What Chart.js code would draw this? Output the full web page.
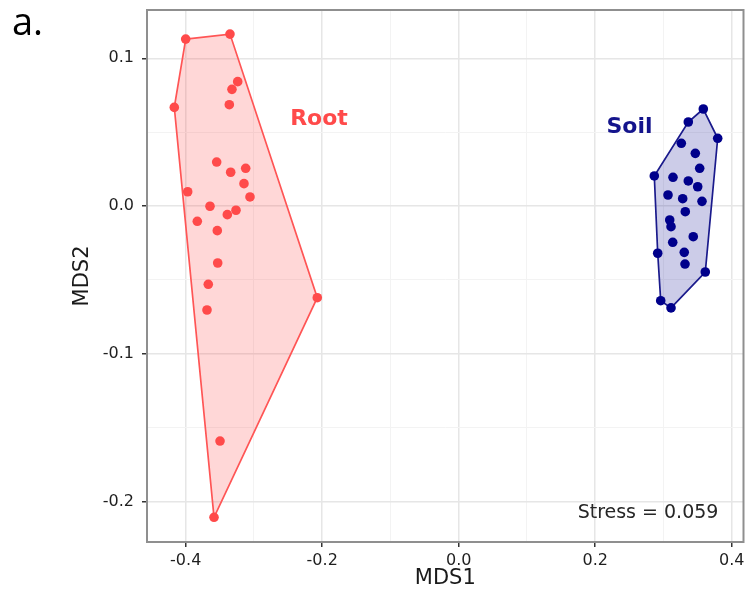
<!DOCTYPE html>
<html>
<head>
<meta charset="utf-8">
<script src="https://cdn.jsdelivr.net/npm/chart.js@4.4.0/dist/chart.umd.min.js"></script>
<style>
  html, body { margin: 0; padding: 0; background: #ffffff; }
  #wrap { position: relative; width: 749px; height: 596px; }
  canvas { display: block; }
</style>
</head>
<body>
<div id="wrap"><canvas id="c" width="749" height="596"></canvas></div>
<script>
// ---- data ----
const rootX = [-0.4000, -0.3351, -0.3238, -0.3322, -0.3361, -0.4167, -0.3546, -0.3341, -0.3121, -0.3146, -0.3971, -0.3058, -0.3644, -0.3263, -0.3390, -0.3830, -0.3537, -0.3531, -0.3669, -0.3688, -0.2072, -0.3497, -0.3585];
const rootY = [0.1130, 0.1164, 0.0842, 0.0790, 0.0686, 0.0668, 0.0298, 0.0229, 0.0256, 0.0152, 0.0097, 0.0062, -0.0001, -0.0028, -0.0058, -0.0103, -0.0166, -0.0385, -0.0529, -0.0703, -0.0620, -0.1590, -0.2106];
const rootHull = [0, 1, 20, 22, 5, 0];

const soilX = [0.3584, 0.3364, 0.3795, 0.3262, 0.3467, 0.3531, 0.2866, 0.3140, 0.3364, 0.3502, 0.3067, 0.3282, 0.3565, 0.3320, 0.3092, 0.3111, 0.3136, 0.3437, 0.2916, 0.3305, 0.3316, 0.3613, 0.2960, 0.3111];
const soilY = [0.0657, 0.0569, 0.0459, 0.0425, 0.0357, 0.0256, 0.0204, 0.0195, 0.0170, 0.0131, 0.0075, 0.0050, 0.0032, -0.0038, -0.0094, -0.0139, -0.0245, -0.0207, -0.0319, -0.0313, -0.0392, -0.0446, -0.0640, -0.0689];
const soilHull = [0, 2, 21, 23, 22, 18, 6, 1, 0];

const groupNames = ['Root', 'Soil'];
const groupLabelX = [-0.2047, 0.2503];
const groupLabelY = [0.0589, 0.0530];
const stressText = 'Stress = 0.059';
const stressX = 0.2774;
const stressY = -0.2079;

const xMajor = [-0.4, -0.2, 0.0, 0.2, 0.4];
const xMinor = [-0.3, -0.1, 0.1, 0.3];
const yMajor = [-0.2, -0.1, 0.0, 0.1];
const yMinor = [-0.15, -0.05, 0.05];
const xRange = [-0.4567, 0.4173];
const yRange = [-0.2273, 0.1327];

// ---- helpers ----
const pts = (xs, ys) => xs.map((x, i) => ({x: x, y: ys[i]}));
const hullPts = (xs, ys, idx) => idx.map(i => ({x: xs[i], y: ys[i]}));
const isMajor = (v, list) => list.some(m => Math.abs(m - v) < 1e-9);
const mkTicks = (maj, min) => maj.concat(min).sort((a, b) => a - b).map(v => ({value: v}));

const RED = '#ff4a4a';
const NAVY = '#00008b';

const textPlugin = {
  id: 'texts',
  afterDraw(chart) {
    const {ctx, chartArea, scales} = chart;
    ctx.save();
    // panel border
    ctx.strokeStyle = '#8f8f8f';
    ctx.lineWidth = 2;
    ctx.strokeRect(chartArea.left, chartArea.top, chartArea.right - chartArea.left, chartArea.bottom - chartArea.top);
    // group labels
    const colors = [RED, '#14148c'];
    ctx.font = 'bold 22px "DejaVu Sans"';
    ctx.textAlign = 'center';
    ctx.textBaseline = 'middle';
    groupNames.forEach((n, i) => {
      ctx.fillStyle = colors[i];
      ctx.fillText(n, scales.x.getPixelForValue(groupLabelX[i]), scales.y.getPixelForValue(groupLabelY[i]));
    });
    // stress
    ctx.font = '19px "DejaVu Sans"';
    ctx.fillStyle = '#262626';
    ctx.fillText(stressText, scales.x.getPixelForValue(stressX), scales.y.getPixelForValue(stressY));
    // panel tag
    ctx.font = '38px "Open Sans"';
    ctx.fillStyle = '#000000';
    ctx.textAlign = 'left';
    ctx.textBaseline = 'alphabetic';
    ctx.fillText('a.', 12, 35);
    ctx.restore();
  }
};

new Chart(document.getElementById('c'), {
  type: 'scatter',
  data: {
    datasets: [
      { label: 'Root', data: pts(rootX, rootY), backgroundColor: RED, borderWidth: 0, pointRadius: 4.8, pointHoverRadius: 4.8 },
      { label: 'Soil', data: pts(soilX, soilY), backgroundColor: NAVY, borderWidth: 0, pointRadius: 4.8, pointHoverRadius: 4.8 },
      { label: 'Root hull', data: hullPts(rootX, rootY, rootHull), showLine: true, fill: 'shape', tension: 0,
        borderColor: '#ff5555', borderWidth: 1.7, backgroundColor: 'rgba(255,64,64,0.21)', pointRadius: 0 },
      { label: 'Soil hull', data: hullPts(soilX, soilY, soilHull), showLine: true, fill: 'shape', tension: 0,
        borderColor: '#1a1a8c', borderWidth: 1.7, backgroundColor: 'rgba(0,0,139,0.2)', pointRadius: 0 }
    ]
  },
  options: {
    responsive: false,
    animation: false,
    devicePixelRatio: 1,
    layout: { padding: { left: 0, top: 10, right: 5.5, bottom: 0 } },
    plugins: { legend: { display: false }, tooltip: { enabled: false } },
    scales: {
      x: {
        type: 'linear', min: xRange[0], max: xRange[1],
        afterBuildTicks: s => { s.ticks = mkTicks(xMajor, xMinor); },
        afterFit: s => { s.height = 54; s.paddingLeft = 0; s.paddingRight = 0; },
        border: { display: false },
        grid: {
          color: c => isMajor(c.tick.value, xMajor) ? '#e6e6e6' : '#f3f3f3',
          lineWidth: c => isMajor(c.tick.value, xMajor) ? 1.5 : 1,
          tickColor: c => isMajor(c.tick.value, xMajor) ? '#333333' : 'rgba(0,0,0,0)',
          tickLength: 5, tickWidth: 1.5
        },
        ticks: {
          autoSkip: false, maxRotation: 0, padding: 4,
          color: '#1f1f1f', font: { family: 'DejaVu Sans', size: 16 },
          callback: v => isMajor(v, xMajor) ? v.toFixed(1) : ''
        },
        title: { display: true, text: 'MDS1', color: '#1a1a1a', font: { family: 'DejaVu Sans', size: 21 }, padding: { top: 0, bottom: 5 } }
      },
      y: {
        type: 'linear', min: yRange[0], max: yRange[1],
        afterBuildTicks: s => { s.ticks = mkTicks(yMajor, yMinor); },
        afterFit: s => { s.width = 147; s.paddingTop = 0; s.paddingBottom = 0; },
        border: { display: false },
        grid: {
          color: c => isMajor(c.tick.value, yMajor) ? '#e6e6e6' : '#f3f3f3',
          lineWidth: c => isMajor(c.tick.value, yMajor) ? 1.5 : 1,
          tickColor: c => isMajor(c.tick.value, yMajor) ? '#333333' : 'rgba(0,0,0,0)',
          tickLength: 5, tickWidth: 1.5
        },
        ticks: {
          autoSkip: false, padding: 8,
          color: '#1f1f1f', font: { family: 'DejaVu Sans', size: 16 },
          callback: v => isMajor(v, yMajor) ? v.toFixed(1) : ''
        },
        title: { display: true, text: 'MDS2', color: '#1a1a1a', font: { family: 'DejaVu Sans', size: 21 }, padding: { top: 70, bottom: 0 } }
      }
    }
  },
  plugins: [textPlugin]
});
</script>
</body>
</html>
